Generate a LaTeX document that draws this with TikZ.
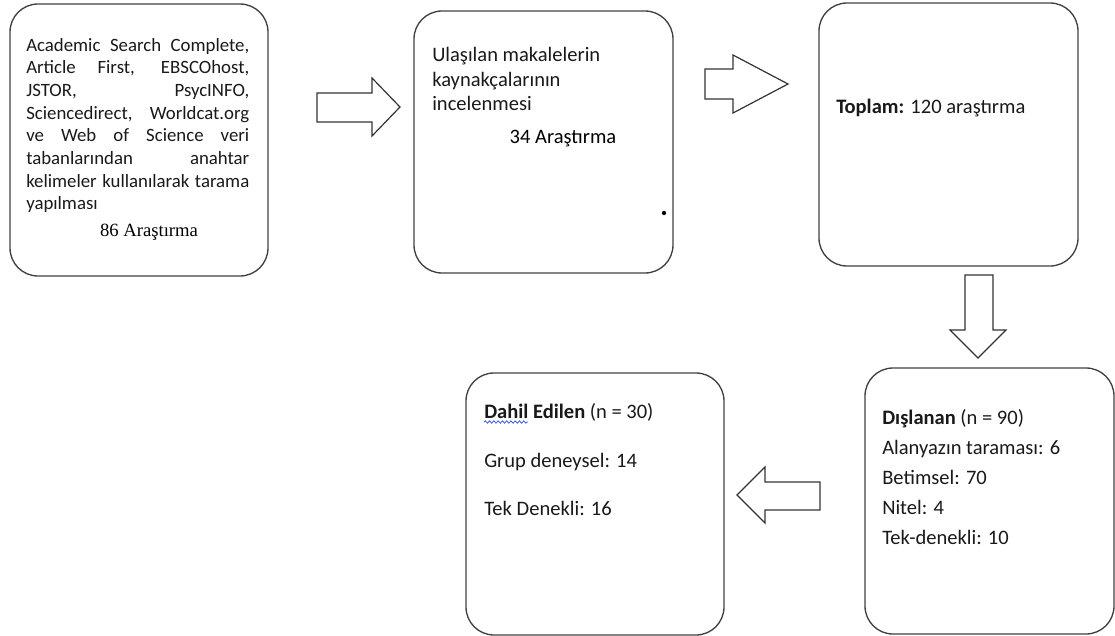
\documentclass[tikz,border=0pt]{standalone}
\usepackage{fontspec}
\setmainfont{Carlito}
\newfontfamily\timesf{Liberation Serif}
\usetikzlibrary{decorations.pathmorphing}
\tikzset{
  box/.style={draw=black!75, line width=1pt, rounded corners=21pt, inner sep=0pt},
  blockarrow/.style={draw=black!80, line width=0.9pt, line join=miter, fill=white},
  txt/.style={inner sep=0pt, anchor=base west, align=left, text=black!90},
  bigtxt/.style={txt, font=\fontsize{15.4pt}{18.4pt}\selectfont},
}
\begin{document}
\begin{tikzpicture}[x=0.75pt,y=-0.75pt]
\useasboundingbox (0,0) rectangle (1115,636);

% boxes
\node[box, minimum width=193.5pt, minimum height=204pt] (b1) at (139,140) {};
\node[box, minimum width=194.25pt, minimum height=196.5pt] (b2) at (543.5,142) {};
\node[box, minimum width=194.25pt, minimum height=197.25pt] (b3) at (948.5,134.5) {};
\node[box, minimum width=193.5pt, minimum height=196.5pt] (b4) at (595,504) {};
\node[box, minimum width=186.75pt, minimum height=199.5pt] (b5) at (989.5,501) {};

% box 1 text (anchor = baseline of last line)
\node[txt, font=\fontsize{14.1pt}{17pt}\selectfont] (t1) at (26,209.7) {%
\makebox[167.25pt][s]{Academic Search Complete,}\\
\makebox[167.25pt][s]{Article First, EBSCOhost,}\\
\makebox[167.25pt][s]{JSTOR, PsycINFO,}\\
\makebox[167.25pt][s]{Sciencedirect, Worldcat.org}\\
\makebox[167.25pt][s]{ve Web of Science veri}\\
\makebox[167.25pt][s]{tabanlarından anahtar}\\
\makebox[167.25pt][s]{kelimeler kullanılarak tarama}\\
yapılması};
\node[inner sep=0pt, anchor=base, font=\timesf\fontsize{14pt}{17pt}\selectfont] (n1) at (149,236) {86 Araştırma};

% box 2 text
\node[bigtxt] (t2) at (432,110.6) {Ulaşılan makalelerin\\kaynakçalarının\\incelenmesi};
\node[inner sep=0pt, anchor=base, font=\fontsize{15.4pt}{18.4pt}\selectfont] (n2) at (563,143.5) {34 Araştırma};
\fill (664,213) circle (1.6pt);

% box 3 text
\node[bigtxt] (t3) at (836,113.5) {\textbf{Toplam:} 120 araştırma};

% box 4 text
\node[txt, font=\fontsize{15.4pt}{18.2pt}\selectfont] (t4) at (484,515.6) {%
\textbf{Dahil Edilen} (n = 30)\\[18.2pt]
Grup deneysel: 14\\[18.2pt]
Tek Denekli: 16};
\draw[color={rgb,255:red,70;green,90;blue,220}, line width=0.6pt,
  decorate, decoration={snake, amplitude=0.9pt, segment length=3.2pt}]
  (484,422) -- (528,422);

% box 5 text
\node[txt, font=\fontsize{15.4pt}{22.5pt}\selectfont] (t5) at (882,544.5) {%
\textbf{Dışlanan} (n = 90)\\
Alanyazın taraması: 6\\
Betimsel: 70\\
Nitel: 4\\
Tek-denekli: 10};

% block arrows
\draw[blockarrow] (317,93) -- (372,93) -- (372,78) -- (400,107) -- (372,136) -- (372,122) -- (317,122) -- cycle;
\draw[blockarrow] (705,69) -- (733,69) -- (733,55) -- (788,84) -- (733,113) -- (733,99) -- (705,99) -- cycle;
\draw[blockarrow] (965,275) -- (993,275) -- (993,330) -- (1006,330) -- (978,358) -- (950,330) -- (965,330) -- cycle;
\draw[blockarrow] (820,482) -- (765,482) -- (765,467) -- (737,495) -- (765,523) -- (765,510) -- (820,510) -- cycle;
\end{tikzpicture}
\end{document}
